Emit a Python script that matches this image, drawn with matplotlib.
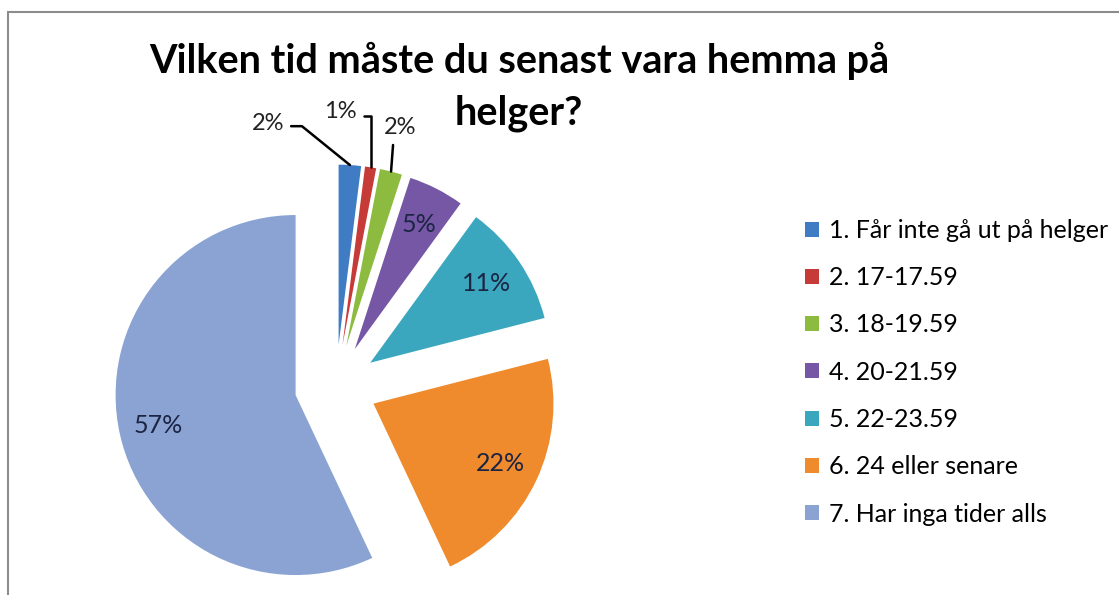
import numpy as np
import matplotlib
matplotlib.use("Agg")
import matplotlib.pyplot as plt
from matplotlib.patches import Rectangle

plt.rcParams['font.family'] = ['Lato', 'DejaVu Sans']

# survey answers (percent)
categories = ["1. Får inte gå ut på helger", "2. 17-17.59", "3. 18-19.59",
              "4. 20-21.59", "5. 22-23.59", "6. 24 eller senare",
              "7. Har inga tider alls"]
values = [2, 1, 2, 5, 11, 22, 57]
colors = ["#3F7CC4", "#C63B37", "#8DBB3F", "#7657A6", "#3BA7BF", "#EF8B2C", "#8BA3D3"]
title = "Vilken tid måste du senast vara hemma på\nhelger?"

# outside label offsets (pixels) for the thin slices
outside_offsets = {0: (-82, 42), 1: (-30, 56), 2: (9, 44)}

fig = plt.figure(figsize=(11.19, 5.95), dpi=100)

# frame of the chart area (cut at right / bottom like the screenshot)
fig.patches.append(Rectangle((8 / 1119, -0.1), 1.2, (595 - 12) / 595 + 0.1,
                             transform=fig.transFigure, fill=False,
                             edgecolor="#8c8c8c", linewidth=1.5))

ax = fig.add_axes([86 / 1119, -41 / 595, 500 / 1119, 500 / 595])

explode = [0.23] * len(values)


def pct_fmt(p):
    return f"{p:.0f}%" if p >= 4 else ""


wedges, texts, autotexts = ax.pie(values, colors=colors, explode=explode,
                                  startangle=90, counterclock=False,
                                  autopct=pct_fmt, pctdistance=0.78,
                                  wedgeprops=dict(linewidth=0))
for t in autotexts:
    t.set_fontsize(18)
    t.set_color("#1c2444")

for i, (dx, dy) in outside_offsets.items():
    w = wedges[i]
    ang = np.deg2rad((w.theta1 + w.theta2) / 2)
    cx, cy = w.center
    xy = (cx + w.r * np.cos(ang), cy + w.r * np.sin(ang))
    if i == 0:
        cs = "angle,angleA=0,angleB=141,rad=0"
        rel = (1, 0.35)
    elif i == 1:
        cs = "angle,angleA=0,angleB=90,rad=0"
        rel = (1, 0.3)
    else:
        cs = "arc3"
        rel = (0.3, 0)
    ax.annotate(f"{values[i]}%", xy=xy, xytext=(dx, dy), textcoords="offset pixels",
                ha="center", va="center", fontsize=17, color="#222222",
                arrowprops=dict(arrowstyle="-", color="black", lw=1.8,
                                connectionstyle=cs, relpos=rel,
                                shrinkA=3, shrinkB=0))

ax.set_xlim(-250 / 180, 250 / 180)
ax.set_ylim(-250 / 180, 250 / 180)
ax.set_aspect("equal")
ax.axis("off")

fig.text(519 / 1119, 1 - 87 / 595, title, ha="center", va="center",
         fontsize=28.5, fontweight="bold", linespacing=1.5)

leg = fig.legend(wedges, categories, loc="upper left",
                 bbox_to_anchor=(805 / 1119, 1 - 219 / 595),
                 frameon=False, fontsize=18, labelspacing=0.97,
                 handlelength=0.55, handleheight=0.55, handletextpad=0.4,
                 borderpad=0, borderaxespad=0)

fig.savefig("out.png", dpi=100)
